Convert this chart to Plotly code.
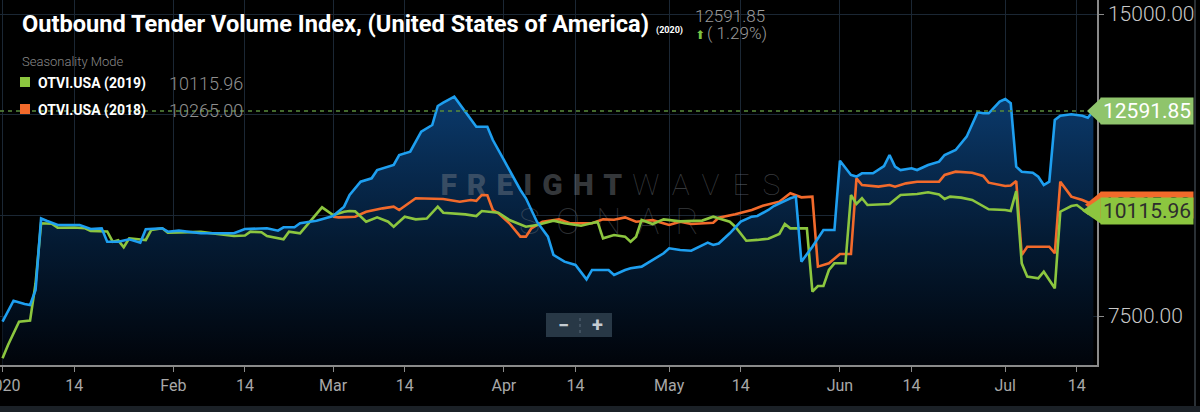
import plotly.graph_objects as go
import pandas as pd

# OTVI.USA seasonality view, days counted from Jan 1 (2020 calendar)
days_2020 = [0, 1, 2, 4, 5, 6, 7, 8, 10, 14, 16, 18, 19, 21, 23, 25, 26, 29, 30, 32,
             36, 42, 44, 48, 50, 51, 53, 54, 57, 60, 62, 63, 65, 67, 68, 71, 72, 74, 76, 78,
             79, 80, 82, 84, 86, 88, 89, 91, 94, 95, 97, 99, 100, 102, 104, 106, 107, 110, 111, 113,
             114, 116, 120, 121, 123, 125, 128, 129, 130, 132, 134, 136, 137, 139, 140, 143, 144, 145, 147, 149,
             151, 152, 154, 155, 156, 158, 160, 161, 162, 163, 165, 166, 168, 170, 171, 173, 175, 177, 178, 179,
             181, 182, 183, 184, 185, 187, 188, 189, 190, 191, 192, 194, 196, 197, 198]
otvi_2020 = [7360, 7608, 7881, 7800, 7775, 8147, 9927, 9868, 9761, 9761, 9661, 9678, 9346, 9346, 9406, 9322, 9654, 9680, 9595, 9620,
             9554, 9554, 9661, 9680, 9620, 9704, 9704, 9803, 9868, 9984, 10216, 10506, 10836, 10920, 11126, 11251, 11499, 11581, 12078, 12244,
             12716, 12798, 12947, 12574, 12202, 12202, 11871, 11375, 10630, 10424, 9843, 9471, 9016, 8850, 8768, 8412, 8644, 8644, 8520, 8644,
             8685, 8726, 9058, 9182, 9140, 9123, 9322, 9264, 9300, 9554, 9843, 9967, 9984, 10133, 10232, 10424, 10465, 8850, 9222, 9637,
             9637, 11357, 11003, 10962, 11044, 11044, 11226, 11499, 11209, 11126, 11168, 11126, 11251, 11333, 11499, 11623, 11954, 12559, 12534, 12534,
             12823, 12890, 12783, 11209, 11085, 11060, 10960, 10754, 10836, 12368, 12475, 12510, 12475, 12425, 12591.85]

days_2019 = [0, 1, 3, 5, 6, 7, 9, 10, 13, 15, 16, 19, 20, 21, 22, 23, 26, 27, 29, 30,
             36, 42, 44, 45, 47, 48, 51, 52, 54, 58, 60, 62, 63, 64, 66, 68, 70, 71, 73, 75,
             77, 79, 80, 84, 86, 87, 90, 92, 95, 97, 100, 102, 105, 108, 109, 111, 113, 114, 115, 116,
             118, 120, 123, 125, 127, 129, 132, 133, 135, 137, 139, 141, 142, 143, 146, 147, 148, 149, 150, 151,
             153, 154, 155, 156, 157, 161, 163, 166, 168, 170, 171, 172, 174, 176, 179, 182, 183, 184, 185, 186,
             188, 189, 191, 192, 194, 195, 197, 198]
otvi_2019 = [6450, 6781, 7360, 7385, 8313, 9803, 9790, 9694, 9700, 9680, 9612, 9600, 9346, 9380, 9207, 9430, 9388, 9637, 9678, 9570,
             9590, 9487, 9500, 9595, 9580, 9487, 9404, 9595, 9554, 10200, 10009, 10091, 10108, 10100, 9843, 9950, 9843, 9719, 9967, 9901,
             9920, 10216, 10066, 10025, 9984, 10108, 10066, 9885, 9719, 9761, 9868, 9803, 9744, 9843, 9430, 9512, 9471, 9346, 9470, 9885,
             9785, 9901, 9850, 9860, 9870, 9967, 9843, 9719, 9371, 9390, 9421, 9537, 9785, 9678, 9678, 8105, 8246, 8246, 8644, 8809,
             8809, 10506, 10282, 10424, 10257, 10282, 10506, 10530, 10572, 10520, 10406, 10465, 10440, 10382, 10150, 10133, 10110, 10605, 8809, 8478,
             8437, 8602, 8188, 10091, 10232, 10257, 10050, 10115.96]

days_2018 = [60, 61, 64, 66, 69, 71, 72, 75, 80, 83, 85, 86, 87, 88, 89, 90, 92, 94, 95, 96,
             98, 101, 103, 107, 109, 111, 113, 115, 118, 121, 123, 125, 129, 130, 133, 136, 138, 141, 143, 145,
             147, 148, 150, 152, 154, 155, 156, 159, 161, 162, 164, 166, 170, 171, 173, 176, 178, 179, 182, 183,
             184, 185, 186, 190, 191, 192, 194, 196, 198]
otvi_2018 = [9967, 9950, 9967, 10091, 10174, 10216, 10133, 10424, 10406, 10340, 10382, 10360, 10506, 10500, 10133, 10050, 9803, 9471, 9471, 9678,
             9843, 9901, 9803, 9803, 9901, 9890, 9950, 9843, 9880, 9761, 9843, 9785, 9818, 9942, 10025, 10133, 10240, 10340, 10547, 10448,
             10465, 8726, 8809, 9041, 9041, 10920, 10754, 10713, 10754, 10713, 10795, 10836, 10836, 11003, 11085, 11060, 10978, 10812, 10729, 10740,
             10853, 9016, 9222, 9222, 9058, 10836, 10465, 10382, 10265]

change_pct = 1.29

tick_dates = ['2020-01-01', '2020-01-14', '2020-02-01', '2020-02-14', '2020-03-01', '2020-03-14', '2020-04-01',
              '2020-04-14', '2020-05-01', '2020-05-14', '2020-06-01', '2020-06-14', '2020-07-01', '2020-07-14']
tick_labels = ['2020', '14', 'Feb', '14', 'Mar', '14', 'Apr', '14', 'May', '14', 'Jun', '14', 'Jul', '14']
y_ticks = [7500, 10000, 12500, 15000]
y_labels = ['7500.00', '', '', '15000.00']

start = pd.Timestamp('2020-01-01')


def to_dates(days):
    return [start + pd.Timedelta(days=d) for d in days]


BLUE = '#1e9ff0'
ORANGE = '#f26a2b'
GREEN = '#8cc63f'
Y_RANGE = [6284, 15348]
PW, PH = 1097, 365  # plot area in px


def px(x):
    return x / PW


def py(y):
    return 1 - y / PH


def ypaper(v):
    return (v - Y_RANGE[0]) / (Y_RANGE[1] - Y_RANGE[0])


fig = go.Figure()

# gradient area under the 2020 line
fig.add_trace(go.Scatter(
    x=to_dates(days_2020), y=otvi_2020, mode='lines',
    line=dict(width=0, color='rgba(0,0,0,0)'),
    fill='tozeroy',
    fillgradient=dict(type='vertical', start=Y_RANGE[0], stop=13000,
                      colorscale=[[0, '#01040a'], [0.45, '#041a32'], [1, '#0b3a6c']]),
    hoverinfo='skip', showlegend=False
))

# watermark
wm_x = start + pd.Timedelta(days=111.5)
fig.add_trace(go.Scatter(
    x=[wm_x], y=[10704], mode='text',
    text=["<span style='letter-spacing:10px;font-weight:900'>FREIGHT</span>"
          "<span style='letter-spacing:13px'>WAVES</span>"],
    textfont=dict(family='Roboto', size=30, color='rgba(120,126,134,0.45)', weight=100),
    hoverinfo='skip', showlegend=False
))
fig.add_trace(go.Scatter(
    x=[wm_x], y=[9760], mode='text',
    text=["<span style='letter-spacing:16px'>SONAR</span>"],
    textfont=dict(family='Roboto', size=36, color='rgba(120,126,134,0.38)', weight=100),
    hoverinfo='skip', showlegend=False
))

for days, vals, col in [(days_2018, otvi_2018, ORANGE), (days_2019, otvi_2019, GREEN),
                        (days_2020, otvi_2020, BLUE)]:
    fig.add_trace(go.Scatter(
        x=to_dates(days), y=vals, mode='lines',
        line=dict(color=col, width=2.6),
        hoverinfo='skip', showlegend=False
    ))

last_2020 = otvi_2020[-1]
last_2019 = otvi_2019[-1]
last_2018 = otvi_2018[-1]

shapes = []
annotations = []

# dashed reference line at current value
shapes.append(dict(type='line', xref='paper', yref='y', x0=0, x1=1, y0=last_2020, y1=last_2020,
                   line=dict(color='#5a8c3c', width=1.3, dash='4px,4px'), layer='above'))

# title block
title_bits = [
    (20, 24, '<b>Outbound Tender Volume Index, (United States of America)</b>',
     dict(family='Roboto', size=23.6, color='#ffffff')),
    (654, 30, '<b>(2020)</b>', dict(family='Roboto', size=9, color='#ffffff')),
    (693, 16, f'{last_2020:.2f}', dict(family='Roboto', size=17, color='#9b9b9b', weight=300)),
    (693, 35, '⬆', dict(family='DejaVu Sans', size=12, color='#7cc242')),
    (705, 33, f'( {change_pct:.2f}%)', dict(family='Roboto', size=17, color='#9b9b9b', weight=300)),
    (20, 62, 'Seasonality Mode', dict(family='Roboto', size=13, color='#8a8a8a', weight=300)),
    (36, 83, '<b>OTVI.USA (2019)</b>', dict(family='Roboto', size=14, color='#ffffff')),
    (167, 83, f'{last_2019:.2f}', dict(family='Roboto', size=18, color='#8f8f8f', weight=300)),
    (36, 110, '<b>OTVI.USA (2018)</b>', dict(family='Roboto', size=14, color='#ffffff')),
    (167, 110, f'{last_2018:.2f}', dict(family='Roboto', size=18, color='#8f8f8f', weight=300)),
]
for x, y, t, f in title_bits:
    annotations.append(dict(xref='paper', yref='paper', x=px(x), y=py(y), text=t, font=f,
                            xanchor='left', yanchor='middle', showarrow=False))

# legend swatches
for yc, col in [(82, GREEN), (109, ORANGE)]:
    shapes.append(dict(type='rect', xref='paper', yref='paper', x0=px(20), x1=px(30),
                       y0=py(yc + 5), y1=py(yc - 5), fillcolor=col, line=dict(width=0), layer='above'))

# value tags on right axis (box = annotation, tip = shape)
for v, bg, fg, tip in [(last_2020, '#8fc46c', '#ffffff', -10),
                       (last_2018, '#f26a2b', '#3a2a20', -12),
                       (last_2019, '#8cc63f', '#2d2d2d', -15)]:
    shapes.append(dict(type='path', xref='paper', yref='paper', xsizemode='pixel', ysizemode='pixel',
                       xanchor=1, yanchor=ypaper(v),
                       path=f'M {tip},0 L 4,13 L 4,-13 Z',
                       fillcolor=bg, line=dict(width=0), layer='above'))
    annotations.append(dict(xref='paper', yref='y', x=px(1100), y=v, xanchor='left', yanchor='middle',
                            text=f'{v:.2f}', showarrow=False, align='left',
                            width=88, height=22, borderpad=2, bgcolor=bg,
                            font=dict(family='Roboto', size=21, color=fg)))

# zoom control
shapes.append(dict(type='rect', xref='paper', yref='paper', x0=px(546), x1=px(612), y0=py(337), y1=py(313),
                   fillcolor='#283846', line=dict(width=0), layer='above'))
shapes.append(dict(type='line', xref='paper', yref='paper', x0=px(580), x1=px(580), y0=py(333), y1=py(317),
                   line=dict(color='#5b6b7a', width=1, dash='dot'), layer='above'))
for xc, t in [(563, '−'), (597, '+')]:
    annotations.append(dict(xref='paper', yref='paper', x=px(xc), y=py(325), text=f'<b>{t}</b>',
                            showarrow=False, xanchor='center', yanchor='middle',
                            font=dict(family='Roboto', size=20, color='#c5ccd2')))

# outer frame bits
shapes.append(dict(type='line', xref='paper', yref='paper', x0=px(1195), x1=px(1195), y0=py(0), y1=py(406),
                   line=dict(color='#2a3035', width=2)))
shapes.append(dict(type='rect', xref='paper', yref='paper', x0=px(0), x1=px(1200), y0=py(406), y1=py(413),
                   fillcolor='#1b2127', line=dict(width=0)))

fig.update_layout(
    width=1200, height=412,
    margin=dict(l=0, r=103, t=0, b=47, autoexpand=False),
    paper_bgcolor='#000000', plot_bgcolor='#000000',
    showlegend=False, hovermode=False,
    shapes=shapes, annotations=annotations,
    xaxis=dict(
        type='date', automargin=False,
        range=[start - pd.Timedelta(hours=11), start + pd.Timedelta(days=198.66)],
        tickvals=tick_dates, ticktext=tick_labels,
        ticks='outside', ticklen=5, tickcolor='#8a8a8a',
        tickfont=dict(family='Roboto', size=16, color='#a8a8a8'),
        ticklabeloverflow='allow',
        showgrid=True, gridcolor='#1b2734', gridwidth=1,
        showline=True, linecolor='#8a8a8a', linewidth=2,
        zeroline=False,
    ),
    yaxis=dict(
        side='right', range=Y_RANGE, automargin=False,
        tickvals=y_ticks, ticktext=y_labels,
        ticks='outside', ticklen=5, tickcolor='#8a8a8a',
        tickfont=dict(family='Roboto', size=21, color='#c8c8c8', weight=300),
        showgrid=True, gridcolor='#1b2734', gridwidth=1,
        showline=True, linecolor='#8a8a8a', linewidth=1.5,
        zeroline=False,
    ),
)

fig.write_html('out.html', config={'displayModeBar': False},
               post_script="document.body.style.margin='0px';")
